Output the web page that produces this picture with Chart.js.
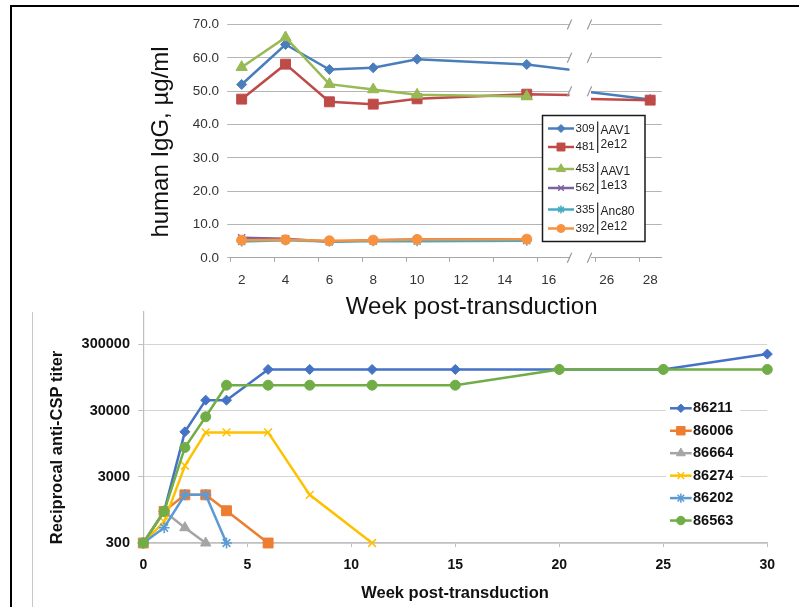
<!DOCTYPE html>
<html>
<head>
<meta charset="utf-8">
<title>Human IgG and anti-CSP titers</title>
<script src="https://cdn.jsdelivr.net/npm/chart.js@4.4.1/dist/chart.umd.min.js"></script>
<style>
  html, body { margin: 0; padding: 0; background: #fff; }
  body { position: relative; width: 799px; height: 607px; overflow: hidden; }
  canvas { position: absolute; left: 0; }
  #igRight { top: 0; z-index: 1; }
  #igLeft { top: 0; z-index: 2; }
  #cspChart { top: 300px; z-index: 0; }
  .rule { position: absolute; z-index: 3; }
</style>
</head>
<body>
<div class="rule" style="left:10px;top:4.5px;width:789px;height:2px;background:#000"></div>
<div class="rule" style="left:10px;top:4.5px;width:2px;height:603px;background:#000"></div>
<div class="rule" style="left:31.5px;top:311.5px;width:1.5px;height:296px;background:#c8c8c8"></div>
<canvas id="igLeft" width="799" height="330"></canvas>
<canvas id="igRight" width="799" height="330"></canvas>
<canvas id="cspChart" width="799" height="307"></canvas>
<script>
// ---- top panel: human IgG (ug/ml) ----
const igWeeks = [2, 4, 6, 8, 10, 15, 28];
const igAnimals = ["309", "481", "453", "562", "335", "392"];
const ig309 = [52.0, 64.0, 56.5, 57.0, 59.6, 58.0, 47.5];
const ig481 = [47.6, 58.1, 46.8, 46.1, 47.7, 49.1, 47.3];
const ig453 = [57.2, 66.1, 52.1, 50.5, 48.9, 48.4, null];
const ig562 = [6.0, 5.7, 4.8, 5.3, 5.5, 5.6, null];
const ig335 = [4.9, 5.3, 4.9, 5.0, 5.0, 5.1, null];
const ig392 = [5.3, 5.4, 5.1, 5.3, 5.5, 5.6, null];
const igGroups = [["AAV1", "2e12"], ["AAV1", "1e13"], ["Anc80", "2e12"]];
const igXLabels = [2, 4, 6, 8, 10, 12, 14, 16, 26, 28];

// ---- bottom panel: reciprocal anti-CSP titer ----
const cspWeeks = [0, 1, 2, 3, 4, 6, 8, 11, 15, 20, 25, 30];
const cspAnimals = ["86211", "86006", "86664", "86274", "86202", "86563"];
const csp86211 = [300, 900, 14300, 43000, 43000, 125000, 125000, 125000, 125000, 125000, 125000, 213000];
const csp86006 = [300, 900, 1600, 1600, 920, 300, null, null, null, null, null, null];
const csp86664 = [300, 900, 510, 300, null, null, null, null, null, null, null, null];
const csp86274 = [300, 630, 4400, 14000, 14000, 14000, 1600, 300, null, null, null, null];
const csp86202 = [300, 510, 1600, 1600, 300, null, null, null, null, null, null, null];
const csp86563 = [300, 900, 8300, 24100, 72300, 72300, 72300, 72300, 72300, 125000, 125000, 125000];
const cspYTicks = [300, 3000, 30000, 300000];

const FONT = "'Liberation Sans', Arial, Helvetica, sans-serif";
Chart.defaults.font.family = FONT;
Chart.defaults.animation = false;
Chart.defaults.plugins.legend.display = false;
Chart.defaults.plugins.tooltip.enabled = false;

const igColors = ["#4A7EBB", "#BE4B48", "#98B954", "#7D60A0", "#46AAC5", "#F69240"];
const igMarkers = [
  { style: "rectRot", r: 5, bw: 1 },
  { style: "rect", r: 7, bw: 1 },
  { style: "triangle", r: 6.5, bw: 1 },
  { style: "crossRot", r: 5, bw: 1.5 },
  { style: "star", r: 5, bw: 1.5 },
  { style: "circle", r: 5, bw: 1 },
];
const cspColors = ["#4472C4", "#ED7D31", "#A5A5A5", "#FFC000", "#5B9BD5", "#70AD47"];
const cspMarkers = [
  { style: "rectRot", r: 5, bw: 1 },
  { style: "rect", r: 7, bw: 1 },
  { style: "triangle", r: 6, bw: 1 },
  { style: "crossRot", r: 5.5, bw: 1.5 },
  { style: "star", r: 5.5, bw: 1.5 },
  { style: "circle", r: 5, bw: 1 },
];

function buildDatasets(weeks, names, series, colors, markers, clip) {
  return series.map((vals, i) => ({
    label: names[i],
    data: weeks.map((w, j) => ({ x: w, y: vals[j] })),
    borderColor: colors[i],
    backgroundColor: colors[i],
    borderWidth: 2.5,
    pointStyle: markers[i].style,
    pointRadius: markers[i].r,
    pointBorderWidth: markers[i].bw,
    tension: 0,
    clip: clip,
    order: series.length - 1 - i, // later series on top, like the original
  }));
}

// text drawn straight onto the canvas (axis titles)
function titlesPlugin(items) {
  return {
    id: "titles",
    afterDraw(chart) {
      const ctx = chart.ctx;
      items.forEach((t) => {
        ctx.save();
        ctx.font = t.font;
        ctx.fillStyle = t.color;
        ctx.textAlign = "center";
        ctx.textBaseline = "alphabetic";
        ctx.translate(t.x, t.y);
        if (t.vertical) ctx.rotate(-Math.PI / 2);
        ctx.fillText(t.text, 0, 0);
        ctx.restore();
      });
    },
  };
}

// little "/" marks where the week axis is cut
function breakPlugin(edge, dx) {
  return {
    id: "axisBreak",
    afterDraw(chart) {
      const { ctx, chartArea, scales } = chart;
      const x = (edge === "right" ? chartArea.right : chartArea.left) + dx;
      ctx.save();
      ctx.strokeStyle = "#9a9a9a";
      ctx.lineWidth = 1.2;
      scales.y.ticks.forEach((t) => {
        const y = scales.y.getPixelForValue(t.value);
        ctx.beginPath();
        ctx.moveTo(x - 2.2, y + 5);
        ctx.lineTo(x + 2.2, y - 5);
        ctx.stroke();
      });
      ctx.restore();
    },
  };
}

function legendPlugin(cfg) {
  return {
    id: "boxLegend",
    afterDraw(chart) {
      const ctx = chart.ctx;
      const b = cfg.box;
      ctx.save();
      ctx.fillStyle = "#fff";
      ctx.fillRect(b.x, b.y, b.w, b.h);
      if (b.border) {
        ctx.strokeStyle = b.border;
        ctx.lineWidth = b.lineWidth;
        ctx.strokeRect(b.x, b.y, b.w, b.h);
      }
      const mid = (cfg.lineX[0] + cfg.lineX[1]) / 2;
      chart.data.datasets.forEach((ds, i) => {
        const y = cfg.rows[i];
        ctx.strokeStyle = ds.borderColor;
        ctx.lineWidth = ds.borderWidth;
        ctx.beginPath();
        ctx.moveTo(cfg.lineX[0], y);
        ctx.lineTo(cfg.lineX[1], y);
        ctx.stroke();
        ctx.fillStyle = ds.backgroundColor;
        ctx.lineWidth = ds.pointBorderWidth;
        Chart.helpers.drawPoint(ctx, {
          pointStyle: ds.pointStyle,
          rotation: 0,
          radius: ds.pointRadius * cfg.markerScale,
          borderWidth: ds.pointBorderWidth,
        }, mid, y);
        ctx.fillStyle = cfg.textColor;
        ctx.font = cfg.font;
        ctx.textAlign = "left";
        ctx.textBaseline = "middle";
        ctx.fillText(ds.label, cfg.textX, y);
      });
      if (cfg.groups) {
        const g = cfg.groups;
        g.labels.forEach((pair, k) => {
          const y0 = cfg.rows[2 * k];
          const y1 = cfg.rows[2 * k + 1];
          ctx.strokeStyle = "#222";
          ctx.lineWidth = 1.2;
          ctx.beginPath();
          ctx.moveTo(g.x, y0 - 7);
          ctx.lineTo(g.x, y1 + 6);
          ctx.stroke();
          ctx.fillStyle = cfg.textColor;
          ctx.font = g.font;
          ctx.fillText(pair[0], g.textX, y0 + 2.5);
          ctx.fillText(pair[1], g.textX, y1 - 2);
        });
      }
      ctx.restore();
    },
  };
}

// x scale for one side of the broken week axis
function igXScale(min, max) {
  return {
    type: "linear",
    min: min,
    max: max,
    afterBuildTicks: (s) => {
      s.ticks = igXLabels
        .flatMap((w) => [w - 0.5, w])
        .filter((v) => v >= min && v <= max)
        .map((v) => ({ value: v }));
    },
    afterFit: (s) => { s.height = 42.2; },
    grid: {
      drawOnChartArea: false,
      drawTicks: true,
      tickLength: 4,
      tickWidth: 1,
      tickColor: (c) => (c.tick && Number.isInteger(c.tick.value) ? "rgba(0,0,0,0)" : "#a6a6a6"),
    },
    border: { color: "#a6a6a6", width: 1 },
    ticks: {
      autoSkip: false,
      maxRotation: 0,
      padding: 10,
      color: "#333",
      font: { size: 13.5 },
      callback: (v) => (Number.isInteger(v) ? String(v) : ""),
    },
  };
}

const igSeries = [ig309, ig481, ig453, ig562, ig335, ig392];

new Chart(document.getElementById("igLeft"), {
  type: "line",
  data: { datasets: buildDatasets(igWeeks, igAnimals, igSeries, igColors, igMarkers, 0) },
  options: {
    responsive: false,
    layout: { padding: { left: 0, top: 24.5, right: 229.5, bottom: 30 } },
    scales: {
      x: igXScale(1.5, 16.95),
      y: {
        min: 0,
        max: 70,
        afterFit: (s) => { s.width = 230.7; s.paddingTop = 0; s.paddingBottom = 0; },
        ticks: { stepSize: 10, padding: 8.2, color: "#333", font: { size: 13.5 }, callback: (v) => v.toFixed(1) },
        grid: { color: "#b5b5b5", tickLength: 3.5, tickColor: "#b5b5b5" },
        border: { display: false },
      },
    },
  },
  plugins: [
    breakPlugin("right", 0),
    legendPlugin({
      box: { x: 542.5, y: 115.5, w: 102.5, h: 126, border: "#1a1a1a", lineWidth: 1.5 },
      rows: [128.5, 147, 169, 188, 209.5, 228.5],
      lineX: [548, 574],
      textX: 575.5,
      font: "11.5px " + FONT,
      textColor: "#222",
      markerScale: 0.8,
      groups: { x: 597.7, textX: 600.5, font: "12px " + FONT, labels: igGroups },
    }),
    titlesPlugin([
      { text: "Week post-transduction", x: 471.7, y: 314, font: "24px " + FONT, color: "#111" },
      { text: "human IgG, \u00b5g/ml", x: 168, y: 142, vertical: true, font: "24px " + FONT, color: "#111" },
    ]),
  ],
});

new Chart(document.getElementById("igRight"), {
  type: "line",
  data: { datasets: buildDatasets(igWeeks, igAnimals, igSeries, igColors, igMarkers, 0) },
  options: {
    responsive: false,
    layout: { padding: { left: 591, top: 24.5, right: 137.3, bottom: 30 } },
    scales: {
      x: igXScale(25.28, 28.53),
      y: {
        min: 0,
        max: 70,
        afterFit: (s) => { s.width = 0; s.paddingTop = 0; s.paddingBottom = 0; },
        ticks: { stepSize: 10, display: false },
        grid: { color: "#b5b5b5", drawTicks: false },
        border: { display: false },
      },
    },
  },
  plugins: [breakPlugin("left", -1.5)],
});

const cspSeries = [csp86211, csp86006, csp86664, csp86274, csp86202, csp86563];

new Chart(document.getElementById("cspChart"), {
  type: "line",
  data: { datasets: buildDatasets(cspWeeks, cspAnimals, cspSeries, cspColors, cspMarkers, false) },
  options: {
    responsive: false,
    layout: { padding: { left: 0, top: 11.7, right: 31.7, bottom: 0 } },
    scales: {
      x: {
        type: "linear",
        min: 0,
        max: 30,
        afterFit: (s) => { s.height = 64; },
        ticks: { stepSize: 5, padding: 9.6, color: "#111", font: { size: 14, weight: "bold" } },
        grid: { drawOnChartArea: false, tickLength: 4, tickColor: "#bfbfbf" },
        border: { color: "#bfbfbf", width: 1.2 },
      },
      y: {
        type: "logarithmic",
        min: 300,
        max: 930000,
        afterFit: (s) => { s.width = 143.3; s.paddingTop = 0; s.paddingBottom = 0; },
        afterBuildTicks: (s) => { s.ticks = cspYTicks.map((v) => ({ value: v })); },
        ticks: { padding: 8.3, color: "#111", font: { size: 14.5, weight: "bold" }, callback: (v) => String(v) },
        grid: { color: "#d4d4d4", tickLength: 5, tickColor: "#bfbfbf" },
        border: { color: "#bfbfbf", width: 1.2 },
      },
    },
  },
  plugins: [
    legendPlugin({
      box: { x: 666, y: 98, w: 74, h: 134 },
      rows: [108.3, 130.75, 153.2, 175.65, 198.1, 220.55],
      lineX: [670, 691.7],
      textX: 693,
      font: "bold 14.5px " + FONT,
      textColor: "#111",
      markerScale: 0.85,
    }),
    titlesPlugin([
      { text: "Week post-transduction", x: 455, y: 297.7, font: "bold 16.5px " + FONT, color: "#111" },
      { text: "Reciprocal anti-CSP titer", x: 62, y: 147.5, vertical: true, font: "bold 16.5px " + FONT, color: "#111" },
    ]),
  ],
});
</script>
</body>
</html>
